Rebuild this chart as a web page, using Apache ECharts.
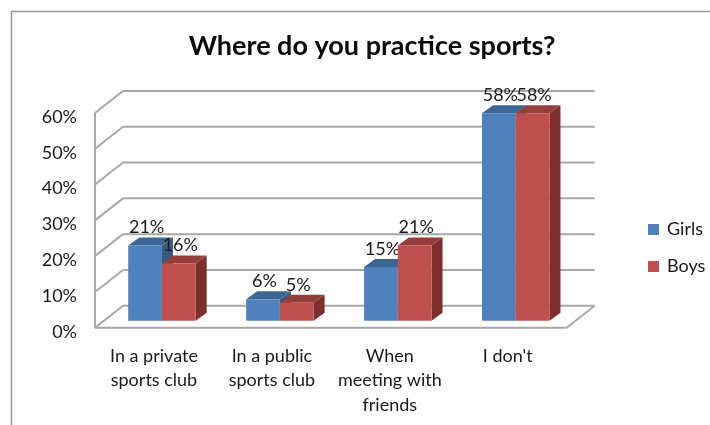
<!DOCTYPE html>
<html>
<head>
<meta charset="utf-8">
<style>html,body{margin:0;padding:0;background:#fff}#chart{width:710px;height:425px}</style>
<script src="https://cdn.jsdelivr.net/npm/echarts@6/dist/echarts.min.js"></script>
</head>
<body>
<div id="chart"></div>
<script>
// Survey answers, in percent
const categories = ['In a private\nsports club', 'In a public\nsports club', 'When\nmeeting with\nfriends', "I don't"];
const girls = [21, 6, 15, 58];
const boys = [16, 5, 21, 58];
const yTicks = [0, 10, 20, 30, 40, 50, 60];

const FONT = 'Lato, "Open Sans", sans-serif';
const BLUE = { front: '#4f81bd', top: '#3e6695', side: '#39597f' };
const RED = { front: '#c0504d', top: '#953e3b', side: '#7c2f2d' };
const WALL = '#a8a8a8';

// Oblique projection: front wall sits slightly above the tick labels,
// the back wall and each bar's depth are shifted up and to the right.
const FRONT_DY = -4;
const WALL_DX = 28, WALL_DY = -22;
const BAR_SHIFT_X = 8, BAR_SHIFT_Y = -11;
const BAR_DX = 11, BAR_DY = -8;
const BAR_BAND = 0.286;

function wallItem(params, api) {
  const p = api.coord([0, api.value(1)]);
  const sys = params.coordSys;
  const y = p[1] + FRONT_DY;
  const x0 = sys.x, x1 = sys.x + sys.width;
  const style = { stroke: WALL, lineWidth: 2, fill: null };
  const kids = [
    { type: 'line', shape: { x1: x0, y1: y, x2: x0 + WALL_DX, y2: y + WALL_DY }, style },
    { type: 'line', shape: { x1: x0 + WALL_DX, y1: y + WALL_DY, x2: x1 + WALL_DX, y2: y + WALL_DY }, style }
  ];
  if (api.value(1) === 0) {
    const yMax = api.coord([0, yTicks[yTicks.length - 1]])[1] + FRONT_DY;
    kids.push({ type: 'line', shape: { x1: x0, y1: y, x2: x1, y2: y }, style });
    kids.push({ type: 'line', shape: { x1: x1, y1: y, x2: x1 + WALL_DX, y2: y + WALL_DY }, style });
    kids.push({ type: 'line', shape: { x1: x0, y1: y, x2: x0, y2: yMax }, style });
  }
  return { type: 'group', children: kids };
}

function barRenderer(slot, colors) {
  return function (params, api) {
    const value = api.value(1);
    const base = api.coord([api.value(0), 0]);
    const top = api.coord([api.value(0), value]);
    const w = api.size([1, 0])[0] * BAR_BAND;
    const left = base[0] + BAR_SHIFT_X + (slot - 1) * w;
    const right = left + w;
    const yBase = base[1] + BAR_SHIFT_Y;
    const yTop = top[1] + BAR_SHIFT_Y;
    const poly = (points, fill) => ({ type: 'polygon', shape: { points }, style: { fill } });
    return {
      type: 'group',
      children: [
        poly([[right, yTop], [right + BAR_DX, yTop + BAR_DY], [right + BAR_DX, yBase + BAR_DY], [right, yBase]], colors.side),
        poly([[left, yTop], [left + BAR_DX, yTop + BAR_DY], [right + BAR_DX, yTop + BAR_DY], [right, yTop]], colors.top),
        poly([[left, yTop], [right, yTop], [right, yBase], [left, yBase]], colors.front),
        {
          type: 'text',
          z2: 10,
          style: {
            x: left + w / 2 + 1.5, y: yTop - 18,
            text: value + '%', align: 'center', verticalAlign: 'middle',
            font: '18px ' + FONT, fill: '#1a1a1a'
          }
        }
      ]
    };
  };
}

const chart = echarts.init(document.getElementById('chart'));
chart.setOption({
  animation: false,
  backgroundColor: '#fff',
  title: {
    text: 'Where do you practice sports?',
    left: 367, top: 28, textAlign: 'center',
    textStyle: { fontFamily: FONT, fontSize: 27, fontWeight: 'bold', color: '#0a0a0a' }
  },
  legend: {
    data: ['Girls', 'Boys'],
    icon: 'rect',
    orient: 'vertical', left: 643, top: 215.5,
    itemWidth: 11, itemHeight: 11, itemGap: 19,
    textStyle: { fontFamily: FONT, fontSize: 18, color: '#1a1a1a', padding: [0, 0, 0, 3] }
  },
  grid: { left: 95, top: 117, width: 471.7, height: 214.7 },
  xAxis: {
    type: 'category',
    data: categories,
    axisLine: { show: false }, axisTick: { show: false },
    axisLabel: { margin: 12, fontFamily: FONT, fontSize: 18, lineHeight: 24.5, color: '#1a1a1a', interval: 0 }
  },
  yAxis: {
    type: 'value', min: 0, max: 60, interval: 10,
    splitLine: { show: false },
    axisTick: { show: false },
    axisLine: { show: false },
    axisLabel: { margin: 18, fontFamily: FONT, fontSize: 18, color: '#1a1a1a', formatter: '{value}%' }
  },
  series: [
    {
      type: 'custom', name: 'Walls', silent: true, z: 1,
      renderItem: wallItem,
      encode: { x: 0, y: 1 },
      data: yTicks.map(v => [0, v])
    },
    {
      type: 'custom', name: 'Girls', z: 2,
      itemStyle: { color: BLUE.front },
      renderItem: barRenderer(0, BLUE),
      encode: { x: 0, y: 1 },
      data: girls.map((v, i) => [i, v])
    },
    {
      type: 'custom', name: 'Boys', z: 3,
      itemStyle: { color: RED.front },
      renderItem: barRenderer(1, RED),
      encode: { x: 0, y: 1 },
      data: boys.map((v, i) => [i, v])
    }
  ],
  graphic: [
    // Outer chart frame: open at the bottom and right edges of the page.
    { type: 'polyline', silent: true, shape: { points: [[11.5, 425], [11.5, 11.5], [710, 11.5]] }, style: { stroke: '#999', lineWidth: 1.5, fill: null } }
  ]
});
</script>
</body>
</html>
